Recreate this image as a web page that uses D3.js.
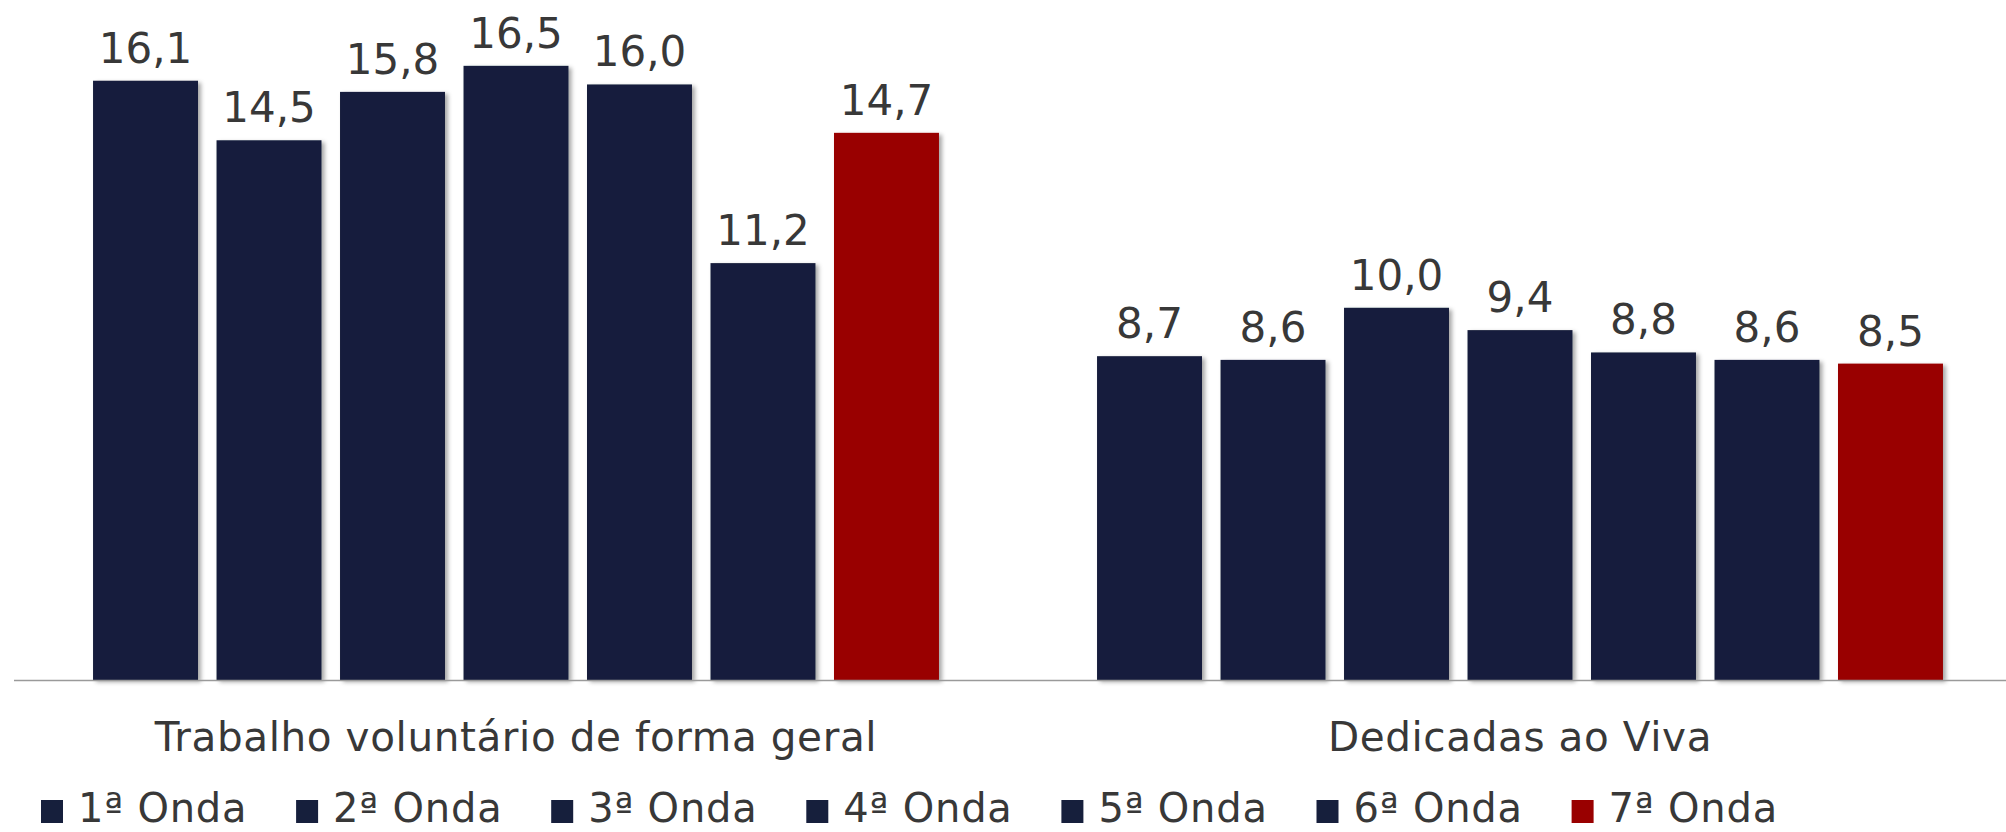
<!DOCTYPE html>
<html>
<head>
<meta charset="utf-8">
<script src="https://cdn.jsdelivr.net/npm/d3@7"></script>
<style>
  html, body { margin: 0; padding: 0; background: #fff; }
  svg text { font-family: "DejaVu Sans", Verdana, sans-serif; fill: #383838; }
</style>
</head>
<body>
<div id="chart"></div>
<script>
const categories = ["Trabalho voluntário de forma geral", "Dedicadas ao Viva"];
const series = ["1ª Onda", "2ª Onda", "3ª Onda", "4ª Onda", "5ª Onda", "6ª Onda", "7ª Onda"];
const valuesGeral = [16.1, 14.5, 15.8, 16.5, 16.0, 11.2, 14.7];
const valuesViva = [8.7, 8.6, 10.0, 9.4, 8.8, 8.6, 8.5];
const seriesColors = ["#161f3c", "#161f3c", "#161f3c", "#161f3c", "#161f3c", "#161f3c", "#990000"];

const width = 2006, height = 832;
const baseY = 680;

const svg = d3.select("#chart").append("svg")
    .attr("width", width)
    .attr("height", height);

// sombra leve à direita das barras
const defs = svg.append("defs");
defs.append("filter")
    .attr("id", "shadow")
    .attr("x", "-10%").attr("y", "-10%")
    .attr("width", "130%").attr("height", "120%")
  .append("feDropShadow")
    .attr("dx", 3).attr("dy", 2)
    .attr("stdDeviation", 2)
    .attr("flood-color", "#000")
    .attr("flood-opacity", 0.35);

const x0 = d3.scaleBand()
    .domain(categories)
    .range([14, 2022]);

const x1 = d3.scaleBand()
    .domain(series)
    .range([0, x0.bandwidth()])
    .paddingInner(0.15)
    .paddingOuter(0.64);

const y = d3.scaleLinear()
    .domain([0, 18])
    .range([baseY, 10]);

const color = d3.scaleOrdinal().domain(series).range(seriesColors);

const rows = [valuesGeral, valuesViva];
const data = categories.map((c, i) => ({
    category: c,
    values: series.map((s, j) => ({ serie: s, value: rows[i][j] }))
}));

const fmt = v => d3.format(".1f")(v).replace(".", ",");

const group = svg.append("g")
    .selectAll("g")
    .data(data)
    .enter().append("g")
    .attr("transform", d => `translate(${x0(d.category)},0)`);

group.selectAll("rect")
    .data(d => d.values)
    .enter().append("rect")
    .attr("x", d => x1(d.serie))
    .attr("y", d => y(d.value))
    .attr("width", x1.bandwidth())
    .attr("height", d => baseY - y(d.value))
    .attr("fill", d => color(d.serie))
    .attr("filter", "url(#shadow)");

group.selectAll("text.val")
    .data(d => d.values)
    .enter().append("text")
    .attr("class", "val")
    .attr("x", d => x1(d.serie) + x1.bandwidth() / 2)
    .attr("y", d => y(d.value) - 18)
    .attr("text-anchor", "middle")
    .attr("font-size", "42px")
    .text(d => fmt(d.value));

// linha do eixo
svg.append("line")
    .attr("x1", 14).attr("x2", width)
    .attr("y1", baseY + 0.5).attr("y2", baseY + 0.5)
    .attr("stroke", "#9a9a9a")
    .attr("stroke-width", 1.5);

svg.append("g")
    .selectAll("text")
    .data(categories)
    .enter().append("text")
    .attr("x", d => x0(d) + x0.bandwidth() / 2)
    .attr("y", 751)
    .attr("text-anchor", "middle")
    .attr("font-size", "40.5px")
    .attr("letter-spacing", "0.6px")
    .text(d => d);

// legenda
const legendX = d3.scaleBand()
    .domain(series)
    .range([41, 41 + 7 * 255.1]);

const legend = svg.append("g")
    .selectAll("g")
    .data(series)
    .enter().append("g")
    .attr("transform", d => `translate(${legendX(d)},0)`);

legend.append("rect")
    .attr("x", 0).attr("y", 800)
    .attr("width", 22).attr("height", 23)
    .attr("fill", d => color(d));

legend.append("text")
    .attr("x", 37)
    .attr("y", 822)
    .attr("font-size", "40px")
    .attr("letter-spacing", "0.8px")
    .text(d => d);
</script>
</body>
</html>
